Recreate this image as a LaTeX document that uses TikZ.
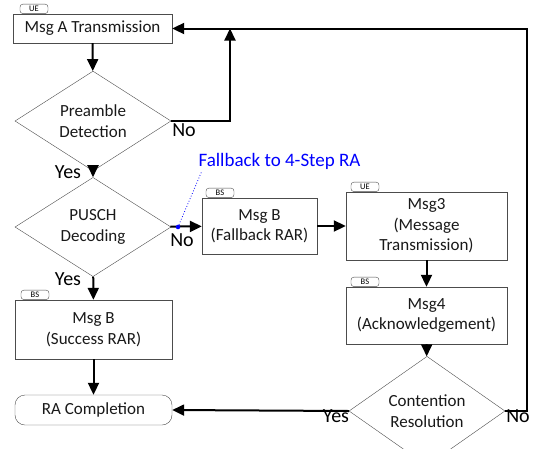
\documentclass[tikz,border=0pt]{standalone}
\usepackage{fontspec}
\setmainfont{Carlito}
\usetikzlibrary{shapes.geometric,arrows.meta}

\begin{document}
\begin{tikzpicture}[x=1pt,y=-1pt,
  box/.style={draw=black!70, thin, fill=white, align=center, inner sep=0pt,
    text=black!90, font=\fontsize{17}{20.5}\selectfont},
  decision/.style={diamond, draw=black!70, thin, align=center, inner sep=0pt,
    minimum width=156pt, minimum height=82pt, text=black!90,
    font=\fontsize{17}{20.5}\selectfont},
  tag/.style={draw=black!70, fill=white, rounded corners=3pt, anchor=south west,
    inner sep=0pt, minimum width=28pt, minimum height=9.5pt,
    font=\fontsize{8.5}{9}\selectfont},
  flow/.style={draw=black, line width=2pt, -{Triangle[length=12pt,width=11pt]}},
  yesno/.style={font=\fontsize{20}{24}\selectfont}
]
\useasboundingbox (0,0) rectangle (536,448);

            % left column
            \node[box, minimum width=159pt, minimum height=29pt] (msgA) at (92.5,28.5) {Msg A Transmission};
            \node[tag] (tagA) at ([xshift=7pt]msgA.north west) {UE};
            \node[decision] (pre) at (93,121) {Preamble\\Detection};
            \node[decision] (pusch) at (93,227) {PUSCH\\Decoding};
            \node[box, minimum width=157pt, minimum height=59pt] (succ) at (93.5,329.5) {Msg B\\(Success RAR)};
            \node[tag] (tagS) at ([xshift=6pt]succ.north west) {BS};
            \node[box, rounded corners=10pt, minimum width=157pt, minimum height=30pt] (done) at (93.5,410) {RA Completion};

            % fallback branch
            \node[box, minimum width=115pt, minimum height=56pt] (fb) at (259.5,226) {Msg B\\(Fallback RAR)};
            \node[tag] (tagF) at ([xshift=4pt]fb.north west) {BS};
            \node[box, minimum width=161pt, minimum height=68pt] (msg3) at (426.5,226) {Msg3\\(Message\\Transmission)};
            \node[tag] (tag3) at ([xshift=5pt]msg3.north west) {UE};
            \node[box, minimum width=161pt, minimum height=57pt] (msg4) at (426.5,315.5) {Msg4\\(Acknowledgement)};
            \node[tag] (tag4) at ([xshift=5pt]msg4.north west) {BS};
            \node[decision] (cont) at (427,411) {Contention\\Resolution};

            \coordinate (loopM) at (230,28.5);
            \coordinate (loopR) at (527,28.5);

            \draw[flow] (msgA) -- (pre);
            \draw[flow] (pre) -- (pusch);
            \draw[flow] (pusch) -- (succ);
            \draw[flow] (succ) -- (done);
            \draw[flow] (pusch) -- (fb);
            \draw[flow] (fb) -- (msg3);
            \draw[flow] (msg3) -- (msg4);
            \draw[flow] (msg4) -- (cont);
            \draw[flow] (cont.west) -- (done.east);
            \draw[flow] (pre.east) -| (loopM);
            \draw[flow] (cont.east) -| (loopR) -- (msgA.east);

            \node[yesno] (y1) at (68,172) {Yes};
            \node[yesno] (n1) at (184,130) {No};
            \node[yesno] (y2) at (68,279) {Yes};
            \node[yesno] (n2) at (182,240) {No};
            \node[yesno] (y3) at (336,416) {Yes};
            \node[yesno] (n3) at (518,416) {No};

            \node[fill=blue, circle, inner sep=1.6pt] (fbdot) at (178,227) {};
            \node[text=blue, anchor=west, font=\fontsize{19}{22}\selectfont] (fbnote) at (195,161) {Fallback to 4-Step RA};
            \draw[blue, dotted, thick] (fbdot) -- ([xshift=7pt,yshift=2pt]fbnote.south west);

\end{tikzpicture}
\end{document}
